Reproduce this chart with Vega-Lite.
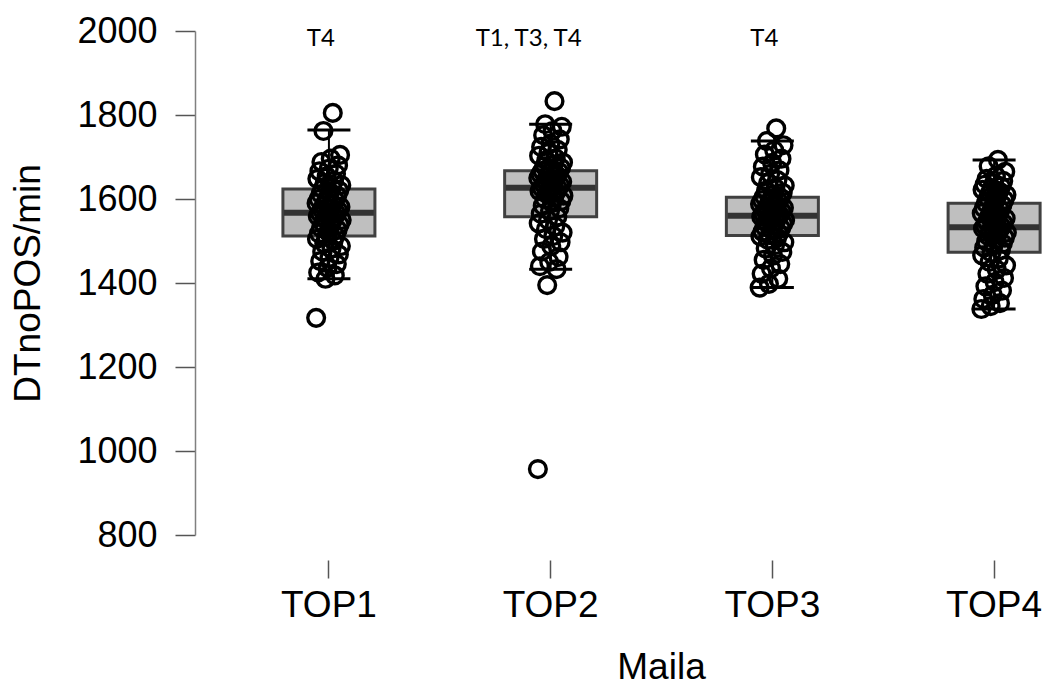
{
  "$schema": "https://vega.github.io/schema/vega-lite/v6.json",
  "width": 845,
  "height": 504,
  "autosize": "none",
  "padding": {"left": 195, "top": 31, "right": 6, "bottom": 153},
  "background": "white",
  "config": {"view": {"stroke": null}, "font": "Liberation Sans"},
  "datasets": {
    "boxes": [
      {"g": "TOP1", "lo": 1410, "q1": 1512, "med": 1567, "q3": 1624, "hi": 1764},
      {"g": "TOP2", "lo": 1433, "q1": 1558, "med": 1627, "q3": 1667, "hi": 1778},
      {"g": "TOP3", "lo": 1389, "q1": 1513, "med": 1560, "q3": 1604, "hi": 1738},
      {"g": "TOP4", "lo": 1338, "q1": 1473, "med": 1533, "q3": 1590, "hi": 1693}
    ],
    "notes": [
      {"g": "TOP1", "t": "T4", "k": "a"},
      {"g": "TOP2", "t": "T1, T3, T4", "k": "b"},
      {"g": "TOP3", "t": "T4", "k": "a"}
    ],
    "points": [
      {"g":"TOP1","id":0,"v":1317},{"g":"TOP1","id":23,"v":1410},{"g":"TOP1","id":46,"v":1418},{"g":"TOP1","id":5,"v":1425},{"g":"TOP1","id":28,"v":1436},{"g":"TOP1","id":51,"v":1445},{"g":"TOP1","id":10,"v":1452},{"g":"TOP1","id":33,"v":1460},{"g":"TOP1","id":56,"v":1468},{"g":"TOP1","id":15,"v":1475},{"g":"TOP1","id":38,"v":1482},{"g":"TOP1","id":61,"v":1488},{"g":"TOP1","id":20,"v":1494},{"g":"TOP1","id":43,"v":1500},{"g":"TOP1","id":2,"v":1505},{"g":"TOP1","id":25,"v":1510},{"g":"TOP1","id":48,"v":1513},{"g":"TOP1","id":7,"v":1518},{"g":"TOP1","id":30,"v":1522},{"g":"TOP1","id":53,"v":1527},{"g":"TOP1","id":12,"v":1531},{"g":"TOP1","id":35,"v":1535},{"g":"TOP1","id":58,"v":1539},{"g":"TOP1","id":17,"v":1543},{"g":"TOP1","id":40,"v":1547},{"g":"TOP1","id":63,"v":1550},{"g":"TOP1","id":22,"v":1553},{"g":"TOP1","id":45,"v":1556},{"g":"TOP1","id":4,"v":1559},{"g":"TOP1","id":27,"v":1562},{"g":"TOP1","id":50,"v":1565},{"g":"TOP1","id":9,"v":1567},{"g":"TOP1","id":32,"v":1569},{"g":"TOP1","id":55,"v":1572},{"g":"TOP1","id":14,"v":1575},{"g":"TOP1","id":37,"v":1578},{"g":"TOP1","id":60,"v":1581},{"g":"TOP1","id":19,"v":1584},{"g":"TOP1","id":42,"v":1587},{"g":"TOP1","id":1,"v":1590},{"g":"TOP1","id":24,"v":1593},{"g":"TOP1","id":47,"v":1597},{"g":"TOP1","id":6,"v":1600},{"g":"TOP1","id":29,"v":1604},{"g":"TOP1","id":52,"v":1608},{"g":"TOP1","id":11,"v":1612},{"g":"TOP1","id":34,"v":1616},{"g":"TOP1","id":57,"v":1620},{"g":"TOP1","id":16,"v":1624},{"g":"TOP1","id":39,"v":1628},{"g":"TOP1","id":62,"v":1633},{"g":"TOP1","id":21,"v":1638},{"g":"TOP1","id":44,"v":1643},{"g":"TOP1","id":3,"v":1648},{"g":"TOP1","id":26,"v":1654},{"g":"TOP1","id":49,"v":1660},{"g":"TOP1","id":8,"v":1666},{"g":"TOP1","id":31,"v":1672},{"g":"TOP1","id":54,"v":1680},{"g":"TOP1","id":13,"v":1688},{"g":"TOP1","id":36,"v":1696},{"g":"TOP1","id":59,"v":1705},{"g":"TOP1","id":18,"v":1762},{"g":"TOP1","id":41,"v":1805},
      {"g":"TOP2","id":0,"v":957},{"g":"TOP2","id":23,"v":1395},{"g":"TOP2","id":46,"v":1433},{"g":"TOP2","id":5,"v":1440},{"g":"TOP2","id":28,"v":1450},{"g":"TOP2","id":51,"v":1462},{"g":"TOP2","id":10,"v":1475},{"g":"TOP2","id":33,"v":1488},{"g":"TOP2","id":56,"v":1497},{"g":"TOP2","id":15,"v":1505},{"g":"TOP2","id":38,"v":1512},{"g":"TOP2","id":61,"v":1520},{"g":"TOP2","id":20,"v":1528},{"g":"TOP2","id":43,"v":1535},{"g":"TOP2","id":2,"v":1542},{"g":"TOP2","id":25,"v":1550},{"g":"TOP2","id":48,"v":1558},{"g":"TOP2","id":7,"v":1565},{"g":"TOP2","id":30,"v":1572},{"g":"TOP2","id":53,"v":1578},{"g":"TOP2","id":12,"v":1584},{"g":"TOP2","id":35,"v":1590},{"g":"TOP2","id":58,"v":1595},{"g":"TOP2","id":17,"v":1600},{"g":"TOP2","id":40,"v":1604},{"g":"TOP2","id":63,"v":1608},{"g":"TOP2","id":22,"v":1612},{"g":"TOP2","id":45,"v":1616},{"g":"TOP2","id":4,"v":1619},{"g":"TOP2","id":27,"v":1622},{"g":"TOP2","id":50,"v":1625},{"g":"TOP2","id":9,"v":1627},{"g":"TOP2","id":32,"v":1629},{"g":"TOP2","id":55,"v":1632},{"g":"TOP2","id":14,"v":1635},{"g":"TOP2","id":37,"v":1638},{"g":"TOP2","id":60,"v":1641},{"g":"TOP2","id":19,"v":1644},{"g":"TOP2","id":42,"v":1647},{"g":"TOP2","id":1,"v":1650},{"g":"TOP2","id":24,"v":1653},{"g":"TOP2","id":47,"v":1656},{"g":"TOP2","id":6,"v":1659},{"g":"TOP2","id":29,"v":1662},{"g":"TOP2","id":52,"v":1665},{"g":"TOP2","id":11,"v":1667},{"g":"TOP2","id":34,"v":1670},{"g":"TOP2","id":57,"v":1674},{"g":"TOP2","id":16,"v":1678},{"g":"TOP2","id":39,"v":1682},{"g":"TOP2","id":62,"v":1687},{"g":"TOP2","id":21,"v":1692},{"g":"TOP2","id":44,"v":1697},{"g":"TOP2","id":3,"v":1703},{"g":"TOP2","id":26,"v":1710},{"g":"TOP2","id":49,"v":1717},{"g":"TOP2","id":8,"v":1724},{"g":"TOP2","id":31,"v":1732},{"g":"TOP2","id":54,"v":1742},{"g":"TOP2","id":13,"v":1752},{"g":"TOP2","id":36,"v":1762},{"g":"TOP2","id":59,"v":1772},{"g":"TOP2","id":18,"v":1778},{"g":"TOP2","id":41,"v":1833},
      {"g":"TOP3","id":0,"v":1389},{"g":"TOP3","id":23,"v":1398},{"g":"TOP3","id":46,"v":1410},{"g":"TOP3","id":5,"v":1422},{"g":"TOP3","id":28,"v":1435},{"g":"TOP3","id":51,"v":1445},{"g":"TOP3","id":10,"v":1455},{"g":"TOP3","id":33,"v":1465},{"g":"TOP3","id":56,"v":1474},{"g":"TOP3","id":15,"v":1482},{"g":"TOP3","id":38,"v":1490},{"g":"TOP3","id":61,"v":1497},{"g":"TOP3","id":20,"v":1503},{"g":"TOP3","id":43,"v":1508},{"g":"TOP3","id":2,"v":1511},{"g":"TOP3","id":25,"v":1514},{"g":"TOP3","id":48,"v":1518},{"g":"TOP3","id":7,"v":1522},{"g":"TOP3","id":30,"v":1526},{"g":"TOP3","id":53,"v":1530},{"g":"TOP3","id":12,"v":1534},{"g":"TOP3","id":35,"v":1538},{"g":"TOP3","id":58,"v":1541},{"g":"TOP3","id":17,"v":1544},{"g":"TOP3","id":40,"v":1547},{"g":"TOP3","id":63,"v":1550},{"g":"TOP3","id":22,"v":1553},{"g":"TOP3","id":45,"v":1556},{"g":"TOP3","id":4,"v":1558},{"g":"TOP3","id":27,"v":1560},{"g":"TOP3","id":50,"v":1562},{"g":"TOP3","id":9,"v":1564},{"g":"TOP3","id":32,"v":1567},{"g":"TOP3","id":55,"v":1570},{"g":"TOP3","id":14,"v":1573},{"g":"TOP3","id":37,"v":1576},{"g":"TOP3","id":60,"v":1579},{"g":"TOP3","id":19,"v":1582},{"g":"TOP3","id":42,"v":1585},{"g":"TOP3","id":1,"v":1588},{"g":"TOP3","id":24,"v":1591},{"g":"TOP3","id":47,"v":1594},{"g":"TOP3","id":6,"v":1597},{"g":"TOP3","id":29,"v":1600},{"g":"TOP3","id":52,"v":1603},{"g":"TOP3","id":11,"v":1606},{"g":"TOP3","id":34,"v":1610},{"g":"TOP3","id":57,"v":1615},{"g":"TOP3","id":16,"v":1620},{"g":"TOP3","id":39,"v":1626},{"g":"TOP3","id":62,"v":1632},{"g":"TOP3","id":21,"v":1638},{"g":"TOP3","id":44,"v":1645},{"g":"TOP3","id":3,"v":1652},{"g":"TOP3","id":26,"v":1660},{"g":"TOP3","id":49,"v":1668},{"g":"TOP3","id":8,"v":1677},{"g":"TOP3","id":31,"v":1686},{"g":"TOP3","id":54,"v":1696},{"g":"TOP3","id":13,"v":1706},{"g":"TOP3","id":36,"v":1716},{"g":"TOP3","id":59,"v":1728},{"g":"TOP3","id":18,"v":1738},{"g":"TOP3","id":41,"v":1768},
      {"g":"TOP4","id":0,"v":1338},{"g":"TOP4","id":23,"v":1345},{"g":"TOP4","id":46,"v":1352},{"g":"TOP4","id":5,"v":1362},{"g":"TOP4","id":28,"v":1372},{"g":"TOP4","id":51,"v":1382},{"g":"TOP4","id":10,"v":1392},{"g":"TOP4","id":33,"v":1402},{"g":"TOP4","id":56,"v":1412},{"g":"TOP4","id":15,"v":1422},{"g":"TOP4","id":38,"v":1432},{"g":"TOP4","id":61,"v":1442},{"g":"TOP4","id":20,"v":1450},{"g":"TOP4","id":43,"v":1458},{"g":"TOP4","id":2,"v":1466},{"g":"TOP4","id":25,"v":1472},{"g":"TOP4","id":48,"v":1478},{"g":"TOP4","id":7,"v":1484},{"g":"TOP4","id":30,"v":1489},{"g":"TOP4","id":53,"v":1494},{"g":"TOP4","id":12,"v":1499},{"g":"TOP4","id":35,"v":1504},{"g":"TOP4","id":58,"v":1508},{"g":"TOP4","id":17,"v":1512},{"g":"TOP4","id":40,"v":1516},{"g":"TOP4","id":63,"v":1520},{"g":"TOP4","id":22,"v":1524},{"g":"TOP4","id":45,"v":1527},{"g":"TOP4","id":4,"v":1530},{"g":"TOP4","id":27,"v":1532},{"g":"TOP4","id":50,"v":1534},{"g":"TOP4","id":9,"v":1536},{"g":"TOP4","id":32,"v":1539},{"g":"TOP4","id":55,"v":1542},{"g":"TOP4","id":14,"v":1546},{"g":"TOP4","id":37,"v":1550},{"g":"TOP4","id":60,"v":1554},{"g":"TOP4","id":19,"v":1558},{"g":"TOP4","id":42,"v":1562},{"g":"TOP4","id":1,"v":1566},{"g":"TOP4","id":24,"v":1570},{"g":"TOP4","id":47,"v":1574},{"g":"TOP4","id":6,"v":1578},{"g":"TOP4","id":29,"v":1582},{"g":"TOP4","id":52,"v":1586},{"g":"TOP4","id":11,"v":1590},{"g":"TOP4","id":34,"v":1594},{"g":"TOP4","id":57,"v":1598},{"g":"TOP4","id":16,"v":1602},{"g":"TOP4","id":39,"v":1606},{"g":"TOP4","id":62,"v":1610},{"g":"TOP4","id":21,"v":1614},{"g":"TOP4","id":44,"v":1618},{"g":"TOP4","id":3,"v":1622},{"g":"TOP4","id":26,"v":1626},{"g":"TOP4","id":49,"v":1630},{"g":"TOP4","id":8,"v":1634},{"g":"TOP4","id":31,"v":1638},{"g":"TOP4","id":54,"v":1643},{"g":"TOP4","id":13,"v":1648},{"g":"TOP4","id":36,"v":1655},{"g":"TOP4","id":59,"v":1665},{"g":"TOP4","id":18,"v":1678},{"g":"TOP4","id":41,"v":1693}
    ]
  },
  "encoding": {
    "x": {
      "field": "g", "type": "nominal",
      "scale": {"domain": ["TOP1", "TOP2", "TOP3", "TOP4"], "paddingInner": 0.883, "paddingOuter": 0.347, "align": 0.786},
      "axis": {
        "title": "Maila", "labelAngle": 0, "domain": false, "offset": 25,
        "tickSize": 18, "tickWidth": 1.5, "tickColor": "#555555",
        "labelFont": "Liberation Sans", "labelFontSize": 37, "labelColor": "#000000", "labelPadding": 9,
        "titleFont": "Liberation Sans", "titleFontSize": 37, "titleFontWeight": "normal", "titleColor": "#000000",
        "titleX": 466, "titleY": 118, "titleBaseline": "alphabetic", "titleAnchor": null
      }
    }
  },
  "layer": [
    {
      "data": {"name": "boxes"},
      "mark": {"type": "rule", "color": "#000000", "strokeWidth": 2},
      "encoding": {
        "y": {"field": "lo", "type": "quantitative",
          "scale": {"domain": [800, 2000], "nice": false, "zero": false},
          "axis": {
            "title": "DTnoPOS/min", "values": [800, 1000, 1200, 1400, 1600, 1800, 2000], "format": "d",
            "grid": false, "domainColor": "#808080", "domainWidth": 1.5,
            "tickColor": "#555555", "tickWidth": 1.5, "tickSize": 20, "labelPadding": 18,
            "labelFont": "Liberation Sans", "labelFontSize": 36, "labelColor": "#000000",
            "titleFont": "Liberation Sans", "titleFontSize": 37, "titleFontWeight": "normal", "titleColor": "#000000",
            "titleX": -167, "titleY": 252, "titleAngle": -90, "titleAlign": "center", "titleBaseline": "middle", "titleAnchor": null
          }
        },
        "y2": {"field": "hi"}
      }
    },
    {
      "data": {"name": "boxes"},
      "mark": {"type": "bar", "width": 92, "fill": "#bfbfbf", "stroke": "#404040", "strokeWidth": 3},
      "encoding": {
        "y": {"field": "q1", "type": "quantitative"},
        "y2": {"field": "q3"}
      }
    },
    {
      "data": {"name": "boxes"},
      "mark": {"type": "tick", "size": 90, "thickness": 6, "color": "#333333", "opacity": 1},
      "encoding": {"y": {"field": "med", "type": "quantitative"}}
    },
    {
      "data": {"name": "points"},
      "mark": {"type": "point", "shape": "circle", "filled": false, "stroke": "#000000", "strokeWidth": 3.4, "size": 280, "opacity": 1},
      "encoding": {
        "xOffset": {"field": "id", "type": "nominal"},
        "y": {"field": "v", "type": "quantitative"}
      }
    },
    {
      "data": {"name": "boxes"},
      "mark": {"type": "tick", "size": 43, "thickness": 3, "color": "#000000", "opacity": 1},
      "encoding": {"y": {"field": "lo", "type": "quantitative"}}
    },
    {
      "data": {"name": "boxes"},
      "mark": {"type": "tick", "size": 43, "thickness": 3, "color": "#000000", "opacity": 1},
      "encoding": {"y": {"field": "hi", "type": "quantitative"}}
    },
    {
      "data": {"name": "notes"},
      "transform": [{"filter": "datum.k === 'a'"}],
      "mark": {"type": "text", "font": "Lato", "fontSize": 24, "color": "#000000", "baseline": "alphabetic", "dy": 15, "dx": -8},
      "encoding": {"y": {"datum": 2000, "type": "quantitative"}, "text": {"field": "t"}}
    },
    {
      "data": {"name": "notes"},
      "transform": [{"filter": "datum.k === 'b'"}],
      "mark": {"type": "text", "font": "Lato", "fontSize": 24, "color": "#000000", "baseline": "alphabetic", "dy": 15, "dx": -22},
      "encoding": {"y": {"datum": 2000, "type": "quantitative"}, "text": {"field": "t"}}
    }
  ]
}
